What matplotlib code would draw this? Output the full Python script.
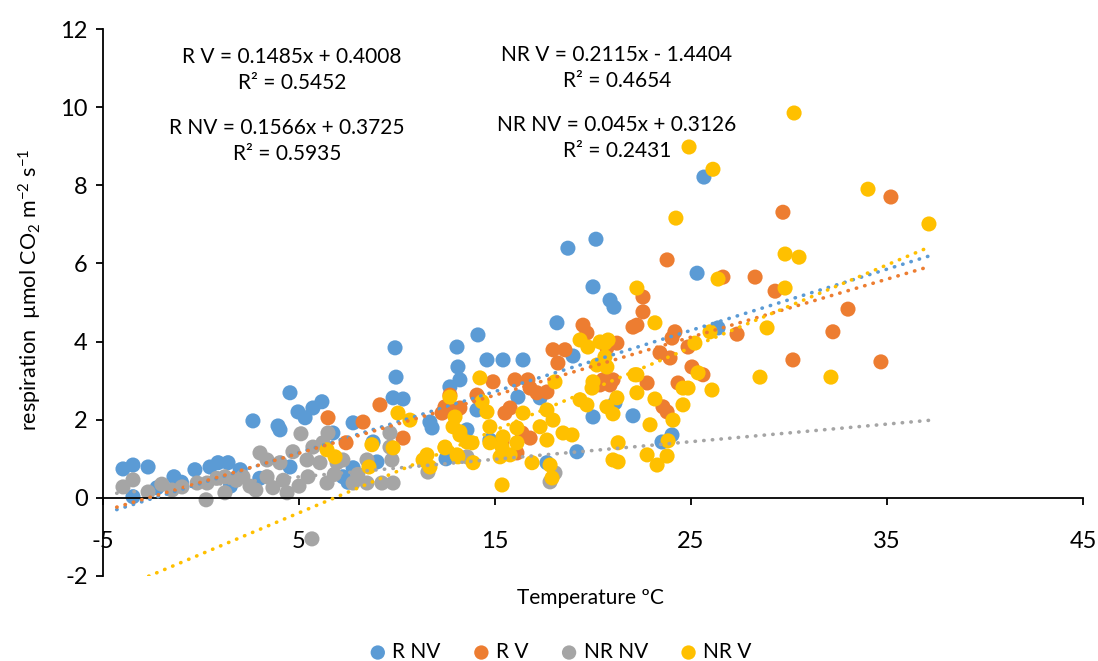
import matplotlib.pyplot as plt
import numpy as np

plt.rcParams['font.family'] = ['Lato', 'DejaVu Sans']
plt.rcParams['mathtext.default'] = 'regular'
plt.rcParams['axes.unicode_minus'] = False

# datos: (temperatura, respiracion)
r_nv = [(-3.98, 0.74), (-3.47, 0.84), (-2.70, 0.79), (-2.24, 0.26), (-3.47, 0.03),
        (-1.38, 0.54), (-0.31, 0.72), (0.46, 0.79), (0.87, 0.90), (1.38, 0.90),
        (2.0, 0.72), (2.65, 1.97), (3.93, 1.84), (4.54, 2.69), (4.95, 2.20),
        (5.31, 2.05), (5.71, 2.30), (6.17, 2.46), (4.03, 1.74), (4.54, 0.79),
        (6.73, 1.66), (7.76, 1.92), (7.24, 0.54), (7.76, 0.77), (8.98, 0.92),
        (8.78, 1.43), (9.90, 3.84), (9.95, 3.09), (9.80, 2.56), (10.31, 2.53),
        (11.68, 1.94), (11.79, 1.79), (12.70, 2.84), (13.21, 3.02), (13.06, 3.86),
        (13.11, 3.35), (14.13, 4.17), (14.59, 3.53), (15.41, 3.53), (16.43, 3.53),
        (14.08, 2.25), (16.17, 2.58), (17.30, 2.56), (13.57, 1.74), (14.74, 1.48),
        (17.65, 0.90), (19.18, 1.18), (20.0, 2.07), (18.16, 4.48), (18.98, 3.63),
        (18.72, 6.39), (20.15, 6.62), (20.0, 5.40), (20.87, 5.06), (21.07, 4.88),
        (22.04, 2.10), (21.12, 2.43), (25.66, 8.21), (25.31, 5.75), (26.38, 4.35),
        (24.03, 1.61), (23.52, 1.43), (1.5, 0.3), (3.0, 0.5), (7.5, 0.4),
        (-1.0, 0.4), (12.5, 1.0)]

r_v = [(6.48, 2.05), (7.40, 1.41), (8.27, 1.94), (9.13, 2.38), (10.31, 1.53),
       (12.30, 2.17), (12.70, 2.63), (13.21, 2.30), (14.08, 2.63), (12.45, 2.33),
       (13.06, 2.25), (14.13, 2.58), (14.90, 2.97), (15.51, 2.17), (15.77, 2.30),
       (16.02, 3.02), (16.68, 3.02), (16.79, 2.81), (17.14, 2.69), (17.65, 2.71),
       (17.96, 3.79), (18.21, 3.45), (18.57, 3.79), (19.49, 4.42), (19.69, 4.22),
       (20.71, 3.84), (21.22, 3.96), (22.24, 4.42), (20.51, 3.02), (20.87, 2.89),
       (20.36, 2.89), (16.38, 1.66), (16.79, 1.53), (15.36, 1.43), (16.12, 1.15),
       (22.55, 5.14), (22.55, 4.76), (22.04, 4.37), (23.78, 6.09), (24.18, 4.25),
       (24.03, 4.09), (23.42, 3.71), (23.93, 3.58), (24.85, 3.86), (25.05, 3.35),
       (25.61, 3.15), (22.76, 2.94), (24.34, 2.94), (21.02, 3.02), (23.57, 2.33),
       (23.78, 2.20), (26.63, 5.65), (27.35, 4.19), (28.27, 5.65), (29.29, 5.29),
       (29.69, 7.31), (30.20, 3.53), (32.24, 4.25), (33.01, 4.83), (34.69, 3.48),
       (35.20, 7.70)]

nr_nv = [(-3.98, 0.28), (-3.47, 0.46), (-2.70, 0.15), (-1.48, 0.20), (-0.97, 0.28),
         (-0.20, 0.38), (0.31, 0.38), (0.26, -0.05), (1.22, 0.54), (1.22, 0.13),
         (2.14, 0.54), (3.01, 1.15), (3.37, 0.97), (4.03, 0.90), (3.37, 0.54),
         (4.39, 0.13), (3.67, 0.26), (4.69, 1.18), (5.10, 1.64), (5.41, 0.97),
         (6.07, 0.90), (6.48, 1.66), (6.22, 1.41), (5.71, 1.30), (5.46, 0.54),
         (6.43, 0.38), (7.24, 0.97), (6.94, 0.90), (7.76, 0.38), (8.47, 0.97),
         (8.47, 0.38), (9.23, 0.38), (9.80, 0.38), (9.74, 0.97), (9.64, 1.30),
         (9.64, 1.66), (11.58, 0.66), (13.57, 1.05), (5.66, -1.05), (17.81, 0.41),
         (18.06, 0.64), (2.5, 0.3), (1.8, 0.45), (0.8, 0.5), (-2.0, 0.35),
         (5.0, 0.3), (6.8, 0.6), (8.0, 0.6), (4.2, 0.45), (2.8, 0.2)]

nr_v = [(37.14, 7.01), (34.03, 7.90), (30.26, 9.85), (29.80, 6.24), (30.51, 6.16),
        (29.80, 5.37), (32.14, 3.09), (28.88, 4.35), (28.52, 3.09), (24.90, 8.98),
        (26.12, 8.41), (24.23, 7.16), (26.38, 5.60), (22.24, 5.37), (23.16, 4.48),
        (25.20, 3.96), (25.97, 4.25), (25.36, 3.20), (24.59, 2.81), (24.85, 2.81),
        (24.59, 2.38), (26.07, 2.76), (22.24, 3.15), (22.24, 2.69), (23.16, 2.53),
        (22.91, 1.87), (24.08, 1.99), (23.83, 1.46), (23.78, 1.07), (22.76, 1.10),
        (23.27, 0.84), (21.28, 1.41), (21.02, 0.97), (21.28, 0.92), (21.22, 2.56),
        (21.02, 2.15), (20.61, 3.96), (20.71, 3.35), (19.34, 4.04), (19.74, 3.86),
        (20.36, 3.99), (20.77, 4.04), (20.61, 3.61), (20.20, 3.40), (18.06, 2.97),
        (20.0, 2.97), (19.95, 2.81), (19.34, 2.51), (19.69, 2.38), (20.71, 2.33),
        (22.14, 3.15), (14.23, 3.07), (12.70, 2.58), (14.34, 2.46), (14.59, 2.20),
        (12.86, 1.82), (13.21, 1.61), (13.57, 1.43), (14.74, 1.82), (14.74, 1.41),
        (15.41, 1.56), (15.36, 1.30), (16.12, 1.41), (16.12, 1.79), (16.43, 2.17),
        (17.30, 1.82), (17.65, 2.25), (17.96, 1.99), (17.65, 1.48), (18.47, 1.66),
        (18.93, 1.61), (12.45, 1.30), (13.06, 1.10), (13.88, 0.90), (15.26, 1.05),
        (15.77, 1.10), (16.89, 0.90), (17.81, 0.84), (17.91, 0.51), (15.36, 0.33),
        (6.84, 1.05), (6.43, 1.23), (8.72, 1.36), (8.57, 0.79), (9.80, 1.28),
        (10.05, 2.17), (10.66, 1.99), (11.33, 0.97), (11.53, 1.10), (11.68, 0.79),
        (12.45, 1.28), (13.11, 1.05), (12.96, 2.07), (13.21, 1.69), (13.83, 1.41)]

nombres = ['R NV', 'R V', 'NR NV', 'NR V']
colores = ['#5B9BD5', '#ED7D31', '#A5A5A5', '#FFC000']
series = [r_nv, r_v, nr_nv, nr_v]

# lineas de tendencia (pendiente, ordenada) y su rango
pendientes = [0.1566, 0.1485, 0.045, 0.2115]
ordenadas = [0.3725, 0.4008, 0.3126, -1.4404]
rango_tendencia = [-4.3, 37.2]

ecuaciones = ['R V = 0.1485x + 0.4008\nR² = 0.5452',
              'R NV = 0.1566x + 0.3725\nR² = 0.5935',
              'NR V = 0.2115x - 1.4404\nR² = 0.4654',
              'NR NV = 0.045x + 0.3126\nR² = 0.2431']
pos_ecuaciones = [(292, 70), (287, 141), (617, 68), (617, 138)]

W, H = 1098, 661
fig = plt.figure(figsize=(W / 100, H / 100), dpi=100)
ax = fig.add_axes([103 / W, 1 - 576 / H, 980 / W, 547 / H])

for datos, nombre, color in zip(series, nombres, colores):
    t = [p[0] for p in datos]
    r = [p[1] for p in datos]
    ax.scatter(t, r, s=118, color=color, edgecolors='none', label=nombre, zorder=2)

xt = np.array(rango_tendencia)
for m, b, color in zip(pendientes, ordenadas, colores):
    ax.plot(xt, m * xt + b, color=color, lw=2.6, linestyle=(0, (0.1, 2.3)),
            dash_capstyle='round', zorder=3)

ax.set_xlim(-5, 45)
ax.set_ylim(-2, 12)
ax.set_xticks(np.arange(-5, 46, 10))
ax.set_yticks(np.arange(-2, 13, 2))
ax.spines['top'].set_visible(False)
ax.spines['right'].set_visible(False)
ax.spines['bottom'].set_position(('data', 0))
ax.spines['left'].set_linewidth(1.3)
ax.spines['bottom'].set_linewidth(1.3)
ax.tick_params(axis='y', labelsize=17, length=5, width=1.3, pad=6)
ax.tick_params(axis='x', labelsize=17, length=5, width=1.3, pad=19)

fig.text(590 / W, 1 - 598 / H, 'Temperature ºC', fontsize=15, ha='center', va='center')
fig.text(30 / W, 1 - 290 / H, 'respiration  µmol CO$_2$ m$^{-2}$ s$^{-1}$', fontsize=15.5,
         rotation=90, ha='center', va='center')

for texto, (px, py) in zip(ecuaciones, pos_ecuaciones):
    fig.text(px / W, 1 - py / H, texto, fontsize=15, ha='center', va='center',
             linespacing=1.35)

fig.legend(loc='center', bbox_to_anchor=(561 / W, 1 - 652 / H), ncol=4, frameon=False,
           fontsize=15, handlelength=0.7, handletextpad=0.35, columnspacing=1.6,
           markerscale=0.95)

fig.savefig('out.png', dpi=100)
